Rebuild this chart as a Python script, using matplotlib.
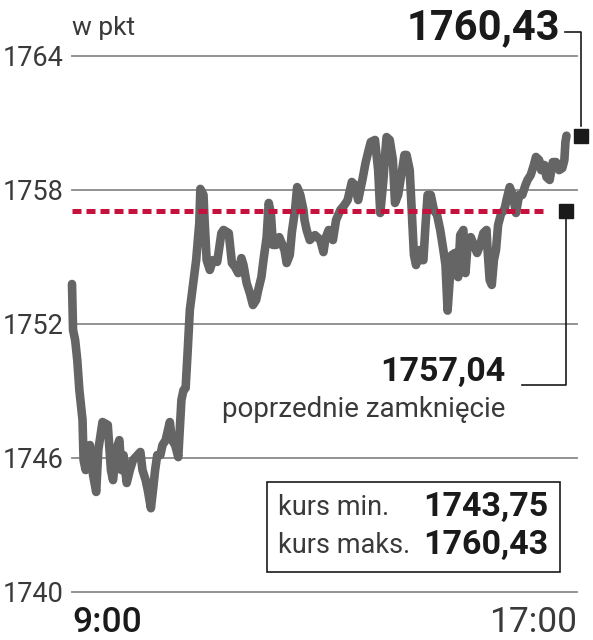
import matplotlib
matplotlib.use("Agg")
import matplotlib.pyplot as plt
from matplotlib.patches import Rectangle

# === DATA (minutes after 9:00, index points) ===
minutes = [0, 1, 3, 5, 7, 10, 11, 13, 17, 20, 23, 25, 29, 34, 37, 39, 42, 45, 47, 49,
           52, 55, 58, 65, 67, 70, 72, 75, 77, 79, 81, 84, 86, 89, 93, 95, 98, 101, 104, 106,
           108, 110, 112, 115, 118, 121, 122, 125, 126, 128, 131, 134, 138, 142, 144, 149, 152, 155, 158, 161,
           163, 166, 169, 172, 175, 177, 180, 182, 185, 187, 189, 191, 194, 197, 200, 202, 204, 207, 209, 212,
           214, 217, 220, 221, 223, 226, 231, 236, 239, 241, 244, 248, 251, 255, 259, 262, 266, 269, 272, 276,
           279, 282, 284, 288, 291, 293, 296, 298, 299, 302, 305, 307, 310, 313, 316, 318, 321, 323, 325, 327,
           330, 332, 334, 336, 338, 341, 344, 347, 350, 353, 355, 357, 359, 361, 364, 367, 369, 372, 374, 376,
           379, 382, 385, 388, 391, 394, 395, 397, 399, 401, 403, 405, 408, 411, 413, 416, 419, 422, 425, 428,
           431, 433, 436, 439, 441, 444, 446, 449, 451, 454, 457, 460, 463, 466, 468, 469, 470]
values = [1753.79, 1751.73, 1751.28, 1750.39, 1749.04, 1747.70, 1745.91, 1745.46, 1746.58, 1745.24,
          1744.48, 1746.36, 1747.61, 1747.48, 1745.46, 1745.01, 1746.36, 1746.80, 1745.46, 1746.13,
          1744.88, 1745.46, 1745.91, 1746.27, 1745.46, 1745.01, 1744.57, 1743.75, 1744.57, 1745.46,
          1746.13, 1746.13, 1746.58, 1746.80, 1747.61, 1746.80, 1746.58, 1746.04, 1748.60, 1749.04,
          1749.13, 1750.83, 1752.63, 1753.75, 1754.86, 1756.52, 1758.05, 1757.78, 1756.66, 1754.86,
          1754.42, 1754.86, 1754.78, 1756.07, 1756.21, 1756.07, 1754.73, 1754.55, 1754.28, 1754.95,
          1754.64, 1753.83, 1753.39, 1752.85, 1753.07, 1753.52, 1754.10, 1754.86, 1755.89, 1757.42,
          1756.97, 1755.54, 1755.54, 1755.89, 1755.54, 1755.31, 1754.73, 1755.09, 1756.12, 1757.10,
          1758.13, 1757.78, 1757.10, 1756.66, 1756.21, 1755.76, 1755.98, 1755.76, 1755.22, 1755.85,
          1756.21, 1755.76, 1756.66, 1757.10, 1757.33, 1757.55, 1758.36, 1758.22, 1757.55, 1758.45,
          1759.21, 1759.79, 1760.15, 1760.24, 1758.89, 1756.97, 1758.45, 1759.79, 1760.37, 1760.24,
          1759.34, 1757.42, 1757.78, 1758.67, 1759.57, 1759.57, 1758.89, 1756.97, 1755.09, 1754.64,
          1755.31, 1754.86, 1754.86, 1756.43, 1757.78, 1757.78, 1757.10, 1756.88, 1756.21, 1755.31,
          1754.64, 1752.60, 1753.97, 1755.09, 1755.18, 1754.10, 1755.98, 1756.21, 1754.28, 1755.54,
          1755.89, 1755.54, 1755.18, 1755.54, 1756.07, 1756.21, 1755.31, 1753.97, 1753.75, 1754.86,
          1755.31, 1756.43, 1756.97, 1757.10, 1757.55, 1758.13, 1757.78, 1756.97, 1757.78, 1757.78,
          1758.22, 1758.45, 1758.67, 1759.12, 1759.48, 1759.34, 1758.89, 1759.12, 1758.58, 1758.45,
          1759.25, 1759.25, 1758.89, 1758.98, 1759.34, 1760.15, 1760.43]

prev_close = 1757.04
last_value = 1760.43
min_value = 1743.75
max_value = 1760.43
y_ticks = [1740, 1746, 1752, 1758, 1764]
x_labels = ["9:00", "17:00"]

FONT = ["Roboto", "DejaVu Sans"]
TXT = "#3a3a3a"
DARK = "#1a1a1a"

def fmt(v):
    return f"{v:.2f}".replace(".", ",")

# === FIGURE ===
fig = plt.figure(figsize=(5.93, 6.40), dpi=100)
ax = fig.add_axes([72 / 593, 1 - 592 / 640, 505 / 593, 536 / 640])
ax.set_xlim(0, 480)
ax.set_ylim(1740, 1764)
for s in ax.spines.values():
    s.set_visible(False)
ax.set_xticks([])
ax.set_yticks(y_ticks)
ax.set_yticklabels([str(t) for t in y_ticks], family=FONT, fontweight="normal",
                   fontsize=19.5, color=TXT)
ax.tick_params(axis="y", length=0, pad=6)
for t in y_ticks:
    ax.axhline(t, color="#8a8a8a", lw=1.3, zorder=1, clip_on=False)

# price line
ax.plot(minutes, values, color="#656565", lw=6.2, solid_joinstyle="round",
        solid_capstyle="round", zorder=3, clip_on=False)

# previous close dashed
ax.plot([0, 452], [prev_close, prev_close], color="#c8103c", lw=3.6,
        linestyle=(0, (1.8, 1.0)), zorder=4)

# markers and leader lines
ax.plot([484], [last_value], marker="s", ms=9.5, color=DARK, clip_on=False, zorder=5)
ax.plot([470], [prev_close], marker="s", ms=9.5, color=DARK, clip_on=False, zorder=5)
ax.plot([468.6, 484, 484], [1765.07, 1765.07, last_value + 0.45], color=DARK,
        lw=1.2, clip_on=False, zorder=5)
ax.plot([470, 470, 427.7], [prev_close, 1749.27, 1749.27], color=DARK,
        lw=1.2, clip_on=False, zorder=5)

# texts
ax.text(464, 1765.25, fmt(last_value), ha="right", va="center", family=FONT,
        fontweight="bold", fontsize=30, color=DARK, clip_on=False)
ax.text(411.6, 1749.85, fmt(prev_close), ha="right", va="center", family=FONT,
        fontweight="bold", fontsize=24.5, color=DARK)
ax.text(411.6, 1748.15, "poprzednie zamknięcie", ha="right", va="center", family=FONT,
        fontweight="normal", fontsize=20, color=TXT)
ax.text(0, 1764.95, "w pkt", ha="left", va="baseline", family=FONT,
        fontweight="normal", fontsize=19, color=TXT, clip_on=False)

# min / max box
ax.add_patch(Rectangle((185.3, 1740.89), 463.8 - 185.3, 1744.92 - 1740.89, fill=True,
                       facecolor="white", edgecolor=DARK, lw=1.2, zorder=6))
ax.text(195.8, 1743.8, "kurs min.", ha="left", va="center", family=FONT,
        fontweight="normal", fontsize=19.5, color=TXT, zorder=7)
ax.text(195.8, 1742.1, "kurs maks.", ha="left", va="center", family=FONT,
        fontweight="normal", fontsize=19.5, color=TXT, zorder=7)
ax.text(452.4, 1743.8, fmt(min_value), ha="right", va="center", family=FONT,
        fontweight="bold", fontsize=24.5, color=DARK, zorder=7)
ax.text(452.4, 1742.1, fmt(max_value), ha="right", va="center", family=FONT,
        fontweight="bold", fontsize=24.5, color=DARK, zorder=7)

# x labels
ax.text(0, 1738.21, x_labels[0], ha="left", va="baseline", family=FONT,
        fontweight="medium", fontsize=25.5, color=DARK, clip_on=False)
ax.text(480, 1738.21, x_labels[1], ha="right", va="baseline", family=FONT,
        fontweight="normal", fontsize=25.5, color=TXT, clip_on=False)

fig.savefig("out.png", dpi=100)
